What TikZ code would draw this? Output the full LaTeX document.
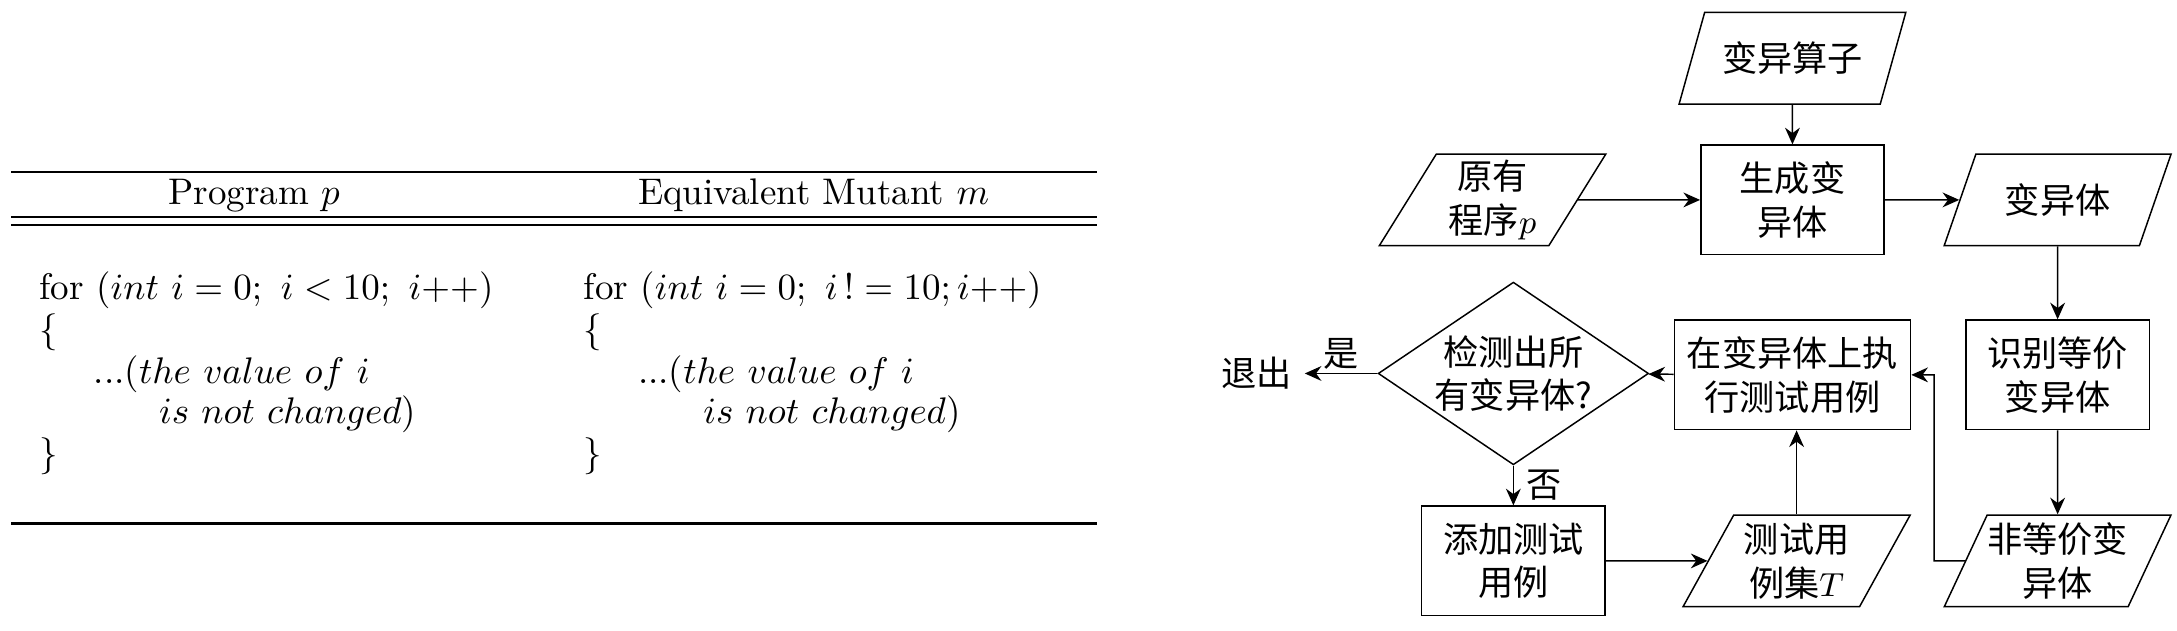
\documentclass[tikz,border=0pt]{standalone}
\usepackage{fontspec}
\usepackage{tikz}
\newfontfamily\cjk{Noto Sans CJK SC}
\usetikzlibrary{shapes.geometric,arrows.meta}

\tikzset{
  flow/.style={font=\cjk\fontsize{9.5}{11.8}\selectfont, align=center},
  procbox/.style={flow, rectangle, draw, minimum width=49.5pt, minimum height=29.6pt, inner sep=1pt},
  iobox/.style={flow, trapezium, trapezium left angle=63, trapezium right angle=117,
    trapezium stretches=true, draw, minimum width=61.5pt, minimum height=24.75pt,
    inner xsep=0pt, inner ysep=1pt},
  decide/.style={flow, diamond, draw, aspect=1.48, minimum width=71.25pt, minimum height=48pt, inner sep=0pt},
  arr/.style={-{Stealth[length=4.5pt,width=4pt]}},
  code/.style={anchor=base west, inner sep=0pt},
}

\begin{document}
\begin{tikzpicture}[x=0.375pt, y=-0.375pt]
    \useasboundingbox (0,0) rectangle (1568,454);

    % Table rules
    \draw[line width=0.7pt] (8,124) -- (790,124);
    \draw[line width=0.5pt] (8,156) -- (790,156);
    \draw[line width=0.5pt] (8,162) -- (790,162);
    \draw[line width=0.6pt] (8,377) -- (790,377);

    % Header
    \node[anchor=base] (hp) at (183,147) {Program $p$};
    \node[anchor=base] (hm) at (586,147) {Equivalent Mutant $m$};

    % Loop heads
    \node[code] (pfor) at (28,216) {for ($int\ i=0;\ i<10;\ i{+}{+}$)};
    \node[code] (mfor) at (420,216) {for ($int\ i=0;\ i\,!=10;i{+}{+}$)};

    % Loop bodies (same in both columns)
    \foreach \cx/\nm in {28/p, 420/m} {
        \node[code] (\nm open) at (\cx,246) {\{};
        \node[code] (\nm body) at (\cx+39,276) {...($the\ value\ of\ i$};
        \node[code] (\nm rest) at (\cx+86,305) {$is\ not\ changed$)};
        \node[code] (\nm close) at (\cx,335) {\}};
    }

    % Flowchart
    \node[iobox] (ops) at (1291,42) {变异算子};
    \node[procbox] (gen) at (1291,144) {生成变\\异体};
    \node[iobox] (orig) at (1075,144) {原有\\程序$p$};
    \node[iobox] (mut) at (1482,144) {变异体};
    \node[procbox] (ident) at (1482,270) {识别等价\\变异体};
    \node[iobox] (neq) at (1482,404) {非等价变\\异体};
    \node[procbox, minimum width=63.8pt] (exec) at (1291,270) {在变异体上执\\行测试用例};
    \node[decide] (check) at (1090,269) {检测出所\\有变异体?};
    \node[flow] (quit) at (905,269) {退出};
    \node[procbox] (add) at (1090,404) {添加测试\\用例};
    \node[iobox] (tset) at (1294,404) {测试用\\例集$T$};
    \coordinate (back) at (1393,404);

    % Connectors
    \draw[arr] (ops) -- (gen);
    \draw[arr] (orig) -- (gen);
    \draw[arr] (gen) -- (mut);
    \draw[arr] (mut) -- (ident);
    \draw[arr] (ident) -- (neq);
    \draw[arr] (exec) -- (check);
    \draw[arr] (check) -- node[flow, above, inner sep=1pt] (yes) {是} (quit);
    \draw[arr] (check) -- node[flow, right] (no) {否} (add);
    \draw[arr] (add) -- (tset);
    \draw[arr] (tset.north) -- (tset.north |- exec.south);
    \draw[arr] (neq) -- (back) |- (exec);
\end{tikzpicture}
\end{document}
